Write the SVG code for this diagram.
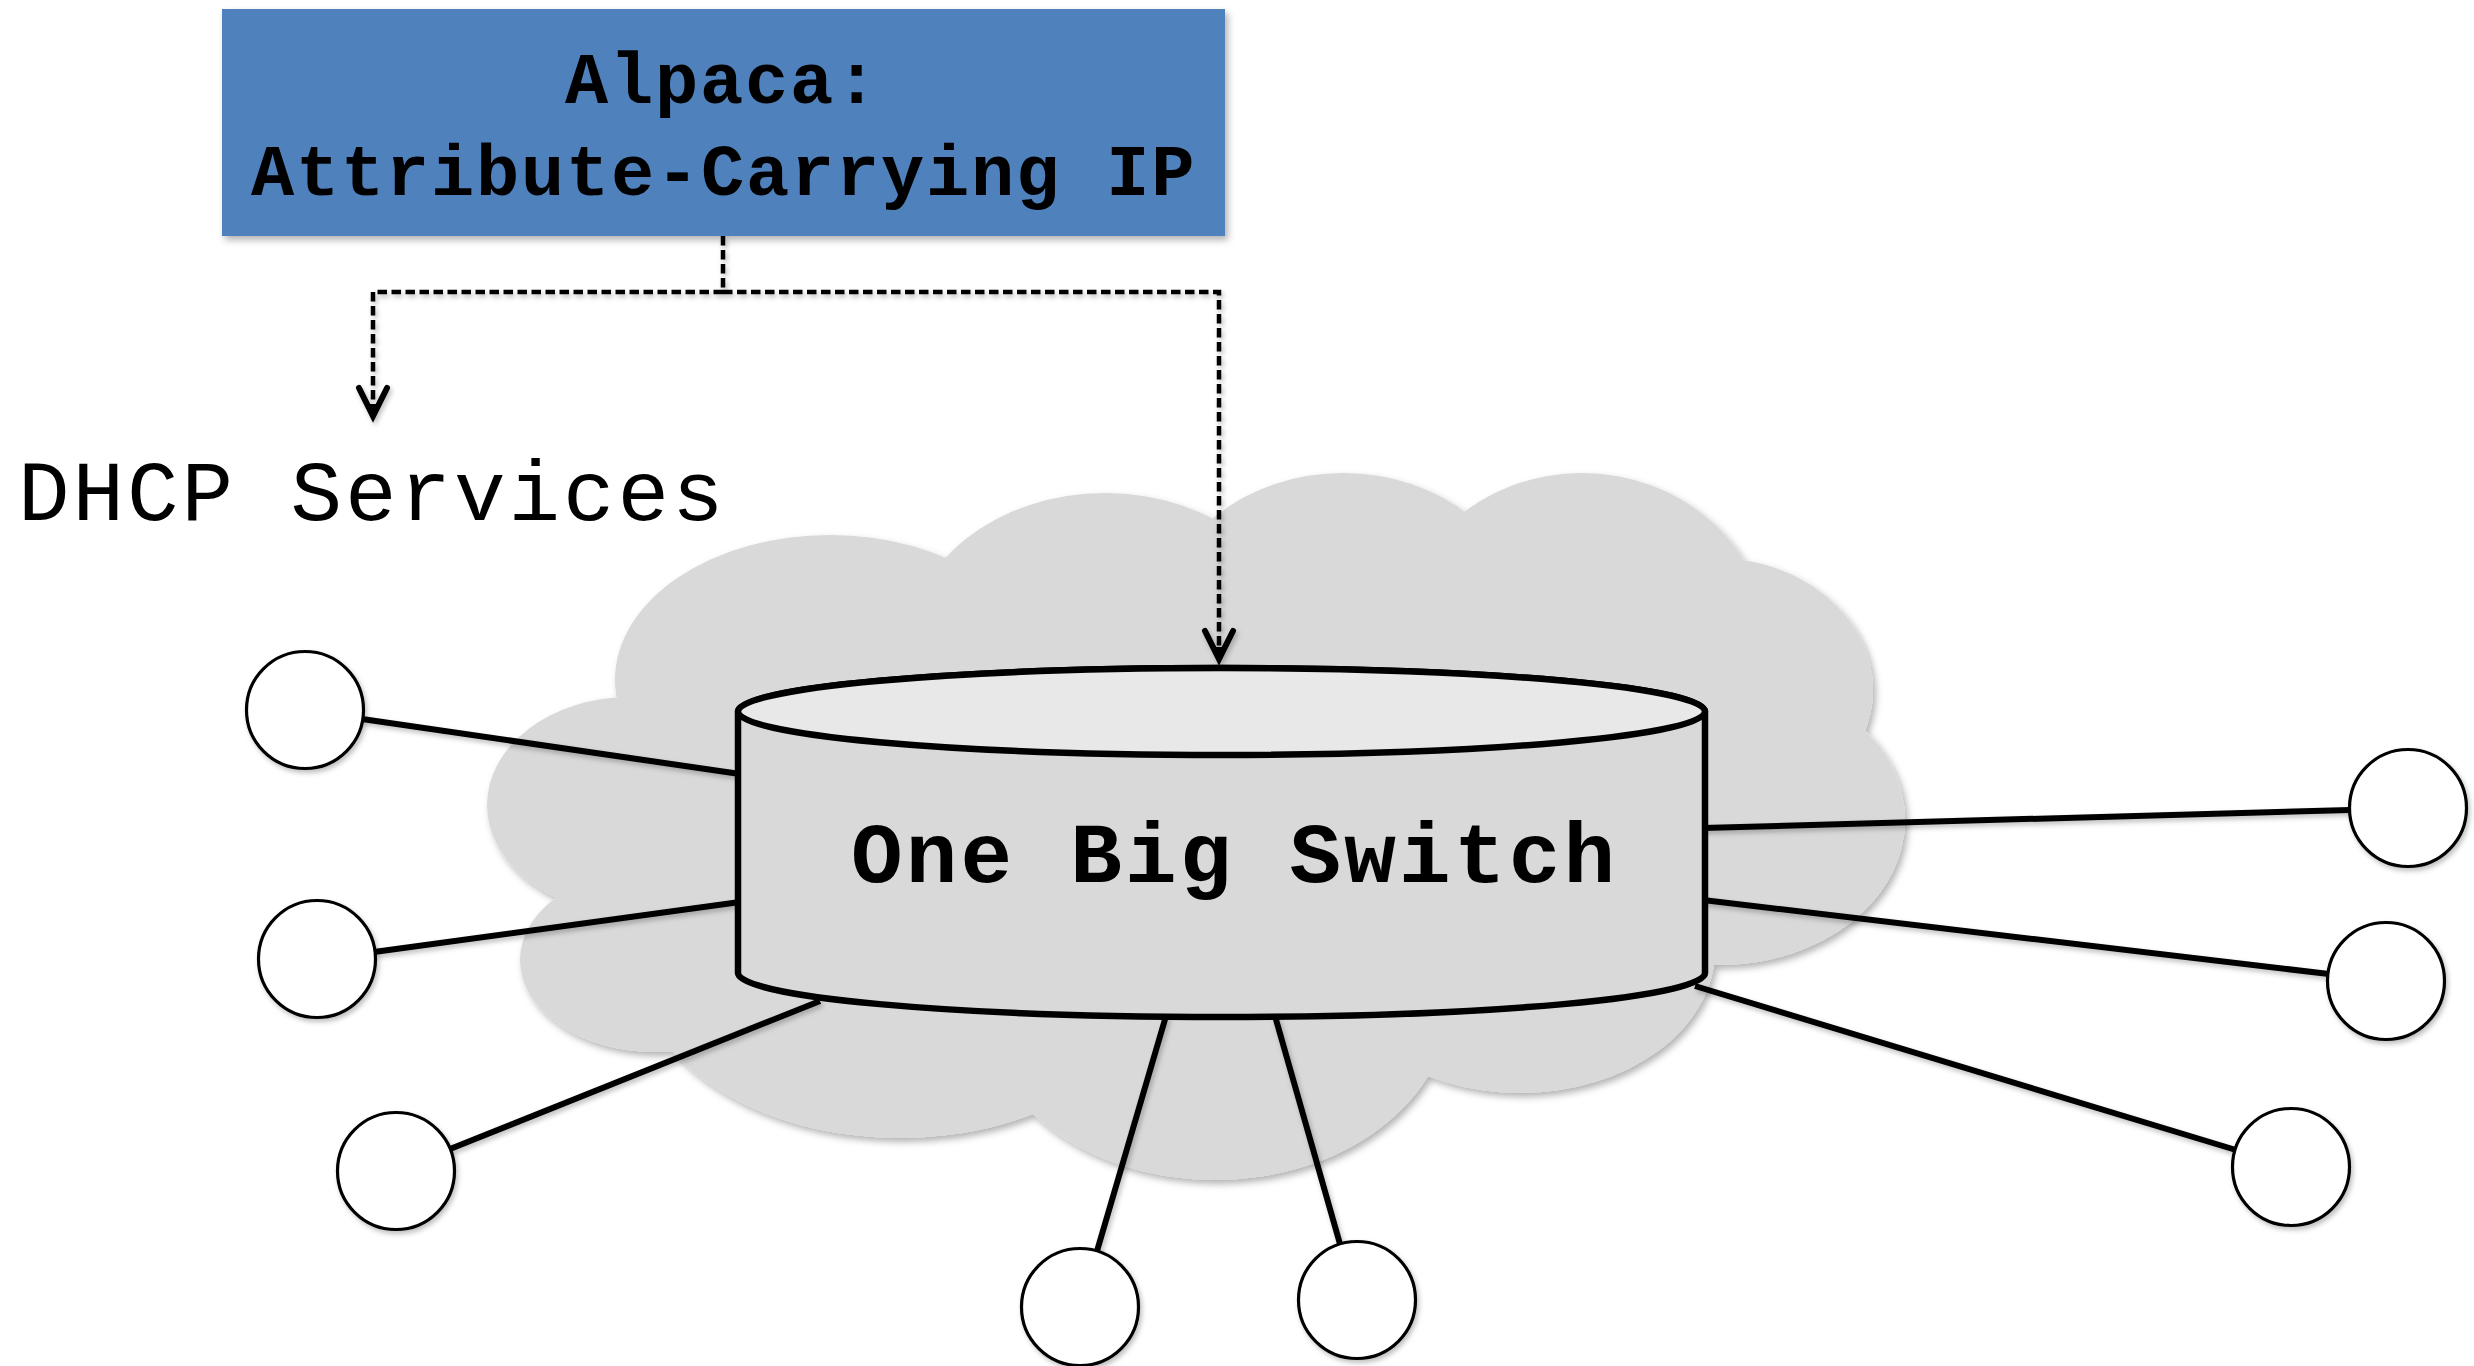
<svg xmlns="http://www.w3.org/2000/svg" width="2474" height="1366" viewBox="0 0 2474 1366">
  <defs>
    <filter id="shadow" x="-10%" y="-10%" width="130%" height="130%">
      <feDropShadow dx="3" dy="4" stdDeviation="3.5" flood-color="#000" flood-opacity="0.3"/>
    </filter>
    <filter id="soft" x="-10%" y="-10%" width="130%" height="130%">
      <feDropShadow dx="2" dy="3" stdDeviation="2.5" flood-color="#000" flood-opacity="0.25"/>
    </filter>
    <marker id="vhead" markerUnits="userSpaceOnUse" markerWidth="40" markerHeight="40" refX="0" refY="0" viewBox="-32 -20 36 40" orient="auto" overflow="visible">
      <path d="M -28 -14 L 0 0 L -28 14" fill="none" stroke="#000" stroke-width="6" stroke-linejoin="miter" stroke-linecap="round"/>
      <path d="M -12 -5 L 0 0 L -12 5 Z" fill="#000"/>
    </marker>
    <style>
      .cloud { fill: #d9d9d9; }
      .link { stroke: #000; stroke-width: 6; fill: none; stroke-linecap: butt; }
      .dash { stroke: #000; stroke-width: 4.5; fill: none; stroke-dasharray: 9.5 4.5; }
      .host { fill: #fff; stroke: #000; stroke-width: 3.2; }
      .mono { font-family: "Liberation Mono", "Courier New", monospace; fill: #000; }
      .box-label { font-size: 72px; font-weight: bold; letter-spacing: 1.8px; }
      .switch-label { font-size: 86px; font-weight: bold; letter-spacing: 3.2px; }
      .plain-label { font-size: 86px; letter-spacing: 2.9px; }
    </style>
  </defs>

  <rect width="2474" height="1366" fill="#fff"/>

  <!-- network cloud: union of overlapping lobes -->
  <g id="cloud" filter="url(#shadow)">
    <ellipse class="cloud" cx="1200" cy="800" rx="600" ry="250"/>
    <ellipse class="cloud" cx="830" cy="680" rx="215" ry="145"/>
    <ellipse class="cloud" cx="1105" cy="650" rx="197" ry="157"/>
    <ellipse class="cloud" cx="1343" cy="620" rx="180" ry="147"/>
    <ellipse class="cloud" cx="1582" cy="640" rx="184" ry="167"/>
    <ellipse class="cloud" cx="1715" cy="690" rx="158" ry="132"/>
    <ellipse class="cloud" cx="1720" cy="820" rx="185" ry="145"/>
    <ellipse class="cloud" cx="1520" cy="950" rx="195" ry="143"/>
    <ellipse class="cloud" cx="1215" cy="1000" rx="235" ry="180"/>
    <ellipse class="cloud" cx="900" cy="960" rx="265" ry="178"/>
    <ellipse class="cloud" cx="655" cy="960" rx="135" ry="92"/>
    <ellipse class="cloud" cx="630" cy="805" rx="143" ry="108"/>
  </g>

  <!-- links and control arrows -->
  <g id="connectors">
    <g filter="url(#soft)">
      <line class="link" x1="362" y1="719" x2="740" y2="774"/>
      <line class="link" x1="374" y1="952" x2="740" y2="902"/>
      <line class="link" x1="450" y1="1149" x2="820" y2="1001"/>
      <line class="link" x1="1097" y1="1251" x2="1166" y2="1016"/>
      <line class="link" x1="1340" y1="1244" x2="1275" y2="1016"/>
      <line class="link" x1="1703" y1="828" x2="2350" y2="810"/>
      <line class="link" x1="1703" y1="900" x2="2329" y2="974"/>
      <line class="link" x1="1695" y1="986" x2="2236" y2="1150"/>
    </g>
    <g filter="url(#soft)">
      <path class="dash" d="M 723 236 V 292 H 373 V 416" marker-end="url(#vhead)"/>
      <path class="dash" d="M 723 292 H 1219 V 659" marker-end="url(#vhead)"/>
    </g>
  </g>

  <!-- the single logical switch -->
  <g id="switch">
    <path d="M 738 711.5 L 738 973 A 483.5 44 0 0 0 1705 973 L 1705 711.5 A 483.5 43.5 0 0 0 738 711.5 Z" fill="#d9d9d9" stroke="#000" stroke-width="6.5" stroke-linejoin="round"/>
    <ellipse cx="1221.5" cy="711.5" rx="483.5" ry="43.5" fill="#e8e8e8" stroke="#000" stroke-width="6.5"/>
    <text class="mono switch-label" x="851" y="882">One Big Switch</text>
  </g>

  <!-- controller box -->
  <g id="alpaca">
    <rect x="222" y="9" width="1003" height="227" fill="#4f81bd" filter="url(#shadow)"/>
    <text class="mono box-label" x="565" y="103">Alpaca:</text>
    <text class="mono box-label" x="251" y="195">Attribute-Carrying IP</text>
  </g>

  <g id="dhcp">
    <text class="mono plain-label" x="18" y="520">DHCP Services</text>
  </g>

  <!-- end hosts -->
  <g filter="url(#soft)">
    <g id="host-1"><circle class="host" cx="305" cy="710" r="58.5"/></g>
    <g id="host-2"><circle class="host" cx="317" cy="959" r="58.5"/></g>
    <g id="host-3"><circle class="host" cx="396" cy="1171" r="58.5"/></g>
    <g id="host-4"><circle class="host" cx="1080" cy="1307" r="58.5"/></g>
    <g id="host-5"><circle class="host" cx="1357" cy="1300" r="58.5"/></g>
    <g id="host-6"><circle class="host" cx="2408" cy="808" r="58.5"/></g>
    <g id="host-7"><circle class="host" cx="2386" cy="981" r="58.5"/></g>
    <g id="host-8"><circle class="host" cx="2291" cy="1167" r="58.5"/></g>
  </g>
</svg>
